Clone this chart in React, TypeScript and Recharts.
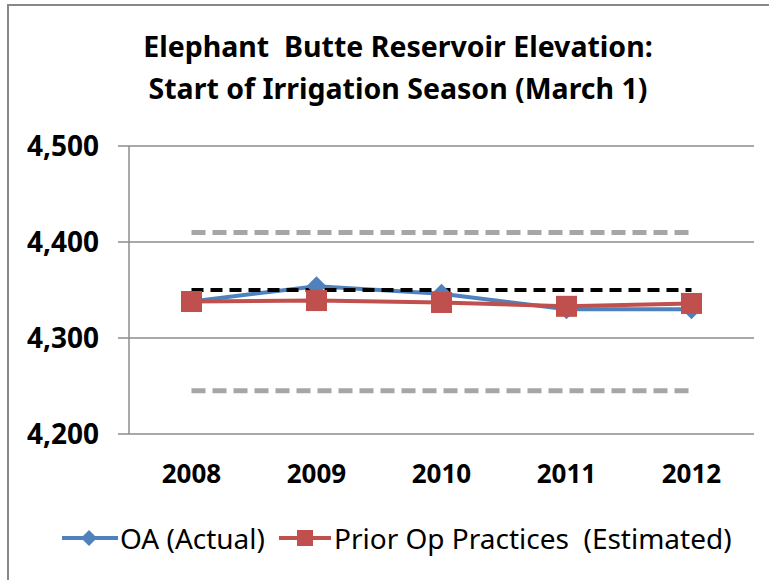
import React from 'react';
import { LineChart, Line, XAxis, YAxis, CartesianGrid, Legend } from 'recharts';

const years = ['2008', '2009', '2010', '2011', '2012'];
const oaActual = [4338, 4354, 4346, 4330, 4330];
const priorOp = [4338, 4339, 4337, 4333, 4336];
const upperBand = [4410, 4410, 4410, 4410, 4410];
const targetLine = [4350, 4350, 4350, 4350, 4350];
const lowerBand = [4245, 4245, 4245, 4245, 4245];
const yTicks = [4200, 4300, 4400, 4500];
const boundTicks = [0, 1, 2, 3, 4, 5];

const data = years.map((year, i) => ({
  year,
  oa: oaActual[i],
  prior: priorOp[i],
  upper: upperBand[i],
  target: targetLine[i],
  lower: lowerBand[i],
}));

const FONT = "'Noto Sans', 'DejaVu Sans', sans-serif";
const BLUE = '#4F81BD';
const RED = '#C0504D';
const AXIS = '#8C8C8C';

const Diamond = (props: any) => {
  const { cx, cy } = props;
  if (cx == null || cy == null) return null;
  const r = 10;
  return <path d={`M${cx},${cy - r}L${cx + r},${cy}L${cx},${cy + r}L${cx - r},${cy}Z`} fill={BLUE} />;
};

const Square = (props: any) => {
  const { cx, cy } = props;
  if (cx == null || cy == null) return null;
  return <rect x={cx - 10.5} y={cy - 10.5} width={21} height={21} fill={RED} />;
};

const LegendBox = () => (
  <div style={{ height: 106, position: 'relative', fontFamily: FONT }}>
    <div style={{ position: 'absolute', top: 46, left: 62, display: 'flex', alignItems: 'center', fontSize: 28, lineHeight: '36px', color: '#000', whiteSpace: 'pre' }}>
      <svg width={56} height={20}>
        <line x1={0} y1={10} x2={56} y2={10} stroke={BLUE} strokeWidth={4} />
        <path d="M27,2L35,10L27,18L19,10Z" fill={BLUE} />
      </svg>
      <span style={{ marginLeft: 2 }}>OA (Actual)</span>
      <svg width={52} height={20} style={{ marginLeft: 14 }}>
        <line x1={0} y1={10} x2={52} y2={10} stroke={RED} strokeWidth={4} />
        <rect x={18} y={2} width={16} height={16} fill={RED} />
      </svg>
      <span style={{ marginLeft: 3 }}>Prior Op Practices  (Estimated)</span>
    </div>
  </div>
);

export default function App() {
  return (
    <div style={{ position: 'absolute', left: 0, top: 0, width: 769, height: 580, overflow: 'hidden', background: '#fff', fontFamily: FONT }}>
      <div style={{ position: 'absolute', left: 7, top: 4, width: 820, height: 700, border: '2px solid #888' }} />
      <div style={{ position: 'absolute', left: 0, top: 25, width: 796, textAlign: 'center', fontSize: 28.5, fontWeight: 'bold', lineHeight: '42px', color: '#000' }}>
        Elephant&nbsp; Butte Reservoir Elevation:
        <br />
        Start of Irrigation Season (March 1)
      </div>
      <div style={{ position: 'absolute', left: 0, top: 0 }}>
        <LineChart width={769} height={580} data={data} margin={{ top: 146, right: 15, left: 0, bottom: 0 }}>
          <CartesianGrid horizontal vertical={false} stroke={AXIS} strokeWidth={1.5} />
          <XAxis
            xAxisId="bounds"
            type="number"
            domain={[0, 5]}
            ticks={boundTicks}
            allowDataOverflow
            height={0}
            tick={false}
            tickSize={11}
            tickLine={{ stroke: AXIS, strokeWidth: 1.5 }}
            axisLine={{ stroke: AXIS, strokeWidth: 1.5 }}
          />
          <XAxis
            dataKey="year"
            padding={{ left: 62.5, right: 62.5 }}
            height={40}
            tickLine={false}
            axisLine={false}
            tickSize={0}
            tickMargin={31}
            tick={{ fill: '#000', fontSize: 26, fontWeight: 'bold', fontFamily: FONT }}
          />
          <YAxis
            width={129}
            domain={[4200, 4500]}
            ticks={yTicks}
            tickFormatter={(v: number) => v.toLocaleString('en-US')}
            tickSize={11}
            tickMargin={19}
            tickLine={{ stroke: AXIS, strokeWidth: 1.5 }}
            axisLine={{ stroke: AXIS, strokeWidth: 1.5 }}
            tick={{ fill: '#000', fontSize: 28, fontWeight: 'bold', fontFamily: FONT }}
          />
          <Legend verticalAlign="bottom" height={106} content={() => <LegendBox />} />
          <Line dataKey="upper" stroke="#A6A6A6" strokeWidth={5} strokeDasharray="14 7" dot={false} isAnimationActive={false} legendType="none" />
          <Line dataKey="lower" stroke="#A6A6A6" strokeWidth={5} strokeDasharray="14 7" dot={false} isAnimationActive={false} legendType="none" />
          <Line dataKey="oa" stroke={BLUE} strokeWidth={4} dot={<Diamond />} isAnimationActive={false} />
          <Line dataKey="target" stroke="#000" strokeWidth={4} strokeDasharray="12 7" dot={false} isAnimationActive={false} legendType="none" />
          <Line dataKey="prior" stroke={RED} strokeWidth={4} dot={<Square />} isAnimationActive={false} />
        </LineChart>
      </div>
    </div>
  );
}
